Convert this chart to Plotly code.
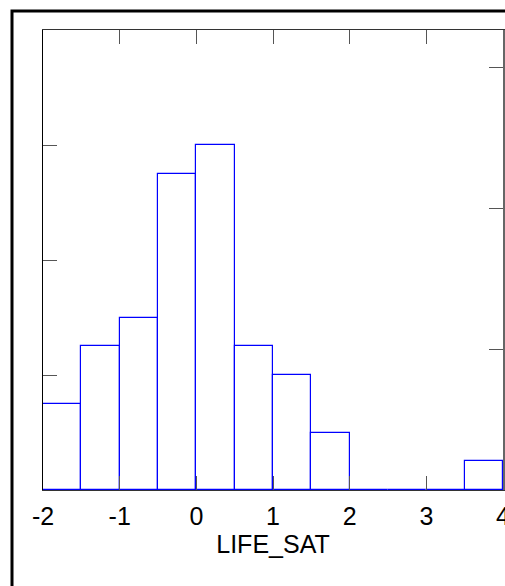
import plotly.graph_objects as go

# histogram of LIFE_SAT, bins of width 0.5 from -2 to 4
bin_left = [-2.0, -1.5, -1.0, -0.5, 0.0, 0.5, 1.0, 1.5, 2.0, 2.5, 3.0, 3.5]
counts = [3, 5, 6, 11, 12, 5, 4, 2, 0, 0, 0, 1]
bin_width = 0.5
x_ticks = [-2, -1, 0, 1, 2, 3, 4]
x_ticktext = ['-2', '-1', '0', '1', '2', '3', '4']
count_ticks = [0, 4, 8, 12, 16]
prop_ticks = [0.1, 0.2, 0.3]

total = sum(counts)
centers = [b + bin_width / 2 for b in bin_left]

BLUE = '#0000FF'
AXIS = '#333333'
TICK = '#555555'
FONT = 'Arial, Liberation Sans, sans-serif'

fig = go.Figure()
fig.add_trace(go.Bar(
    x=centers, y=counts, width=bin_width,
    marker=dict(color='rgba(255,255,255,0)', line=dict(color=BLUE, width=1.2)),
    hoverinfo='skip', showlegend=False,
))
# invisible trace to hold the proportion axis on the right
fig.add_trace(go.Scatter(
    x=[bin_left[0], bin_left[-1] + bin_width], y=[0, count_ticks[-1] / total],
    mode='markers', marker=dict(opacity=0), yaxis='y2', xaxis='x2',
    hoverinfo='skip', showlegend=False,
))

fig.update_layout(
    width=505, height=586,
    margin=dict(l=43, r=2, t=30, b=96, autoexpand=False),
    paper_bgcolor='white', plot_bgcolor='white',
    font=dict(family=FONT, color='black', size=24),
    bargap=0,
    xaxis=dict(
        range=[-2, 4], tickmode='array', tickvals=x_ticks, ticktext=x_ticktext,
        ticks='inside', ticklen=14, tickwidth=1, tickcolor=TICK,
        showline=True, linecolor=AXIS, linewidth=1,
        showgrid=False, zeroline=False, automargin=False,
        tickfont=dict(size=25), ticklabelstandoff=4, ticklabeloverflow='allow',
        title=dict(text='LIFE_SAT', font=dict(size=25), standoff=6),
    ),
    xaxis2=dict(
        range=[-2, 4], overlaying='x', side='top',
        tickmode='array', tickvals=x_ticks[1:-1],
        ticks='inside', ticklen=14, tickwidth=1, tickcolor=TICK,
        showline=True, linecolor=AXIS, linewidth=1, automargin=False,
        showticklabels=False, showgrid=False, zeroline=False,
    ),
    yaxis=dict(
        range=[0, count_ticks[-1]], tickmode='array', tickvals=count_ticks,
        ticks='inside', ticklen=14, tickwidth=1, tickcolor=TICK,
        showline=True, linecolor='black', linewidth=1, automargin=False,
        showticklabels=False, showgrid=False, zeroline=False,
    ),
    yaxis2=dict(
        range=[0, count_ticks[-1] / total], overlaying='y', side='right',
        tickmode='array', tickvals=prop_ticks,
        ticks='inside', ticklen=14, tickwidth=1, tickcolor=TICK,
        showline=True, linecolor='#666666', linewidth=1.5, automargin=False,
        showticklabels=False, showgrid=False, zeroline=False,
    ),
    # outer frame; right and bottom edges fall outside the page
    shapes=[dict(
        type='rect', xref='paper', yref='paper',
        x0=(12 - 43) / 460, x1=(540 - 43) / 460,
        y0=(490 - 620) / 460, y1=(490 - 11) / 460,
        line=dict(color='black', width=3), fillcolor='rgba(0,0,0,0)',
        layer='below',
    )],
)

fig.write_html(
    "out.html",
    config={'displayModeBar': False},
    post_script="document.body.style.margin='0';document.body.style.overflow='hidden';",
)
